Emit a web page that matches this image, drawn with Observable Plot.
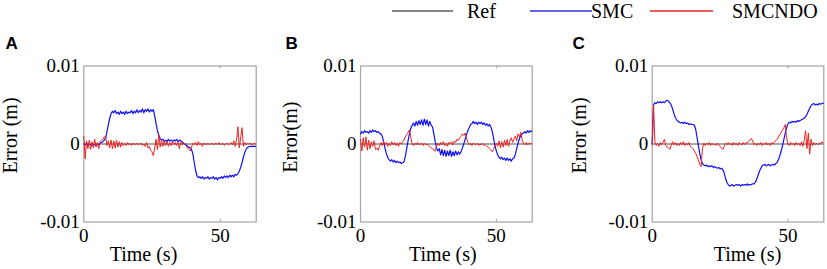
<!DOCTYPE html>
<html><head><meta charset="utf-8">
<script src="https://cdn.jsdelivr.net/npm/d3@7"></script>
<script src="https://cdn.jsdelivr.net/npm/@observablehq/plot@0.6"></script>
<style>
html,body{margin:0;padding:0;background:#fff;}
#root{position:relative;width:827px;height:269px;overflow:hidden;font-family:"Liberation Serif","Times New Roman",serif;}
.panel{position:absolute;top:0;}
.leg-line{position:absolute;height:2px;}
.leg-text{position:absolute;font-size:20px;line-height:20px;white-space:nowrap;color:#000;}
</style></head><body><div id="root"></div>
<script>
// sample times (s), one value every 0.5 s from 0 to 63 s
const time = d3.range(0, 63.01, 0.5);
const xTicks = [0, 50];
const yTicks = [-0.01, 0, 0.01];
const seriesNames = ["Ref", "SMC", "SMCNDO"];
const panelLetters = ["A", "B", "C"];
const yLabels = ["Error (m)", "Error(m)", "Error (m)"];
const xLabel = "Time (s)";

// errors in mm
const smcA = [0.0,-0.1,0.1,-0.2,0.0,-0.1,-0.2,0.0,-0.1,-0.2,0.0,-0.1,0.1,0.2,0.3,0.5,0.8,1.6,2.5,3.3,3.9,4.2,4.0,4.3,3.9,4.1,3.8,4.2,3.9,4.1,3.8,4.2,3.9,4.1,4.0,4.3,3.9,4.2,4.0,4.4,4.0,4.3,4.1,4.5,4.0,4.4,4.2,4.5,4.1,4.4,4.2,4.4,3.6,2.6,1.7,1.1,0.7,0.5,0.6,0.3,0.5,0.3,0.6,0.4,0.5,0.3,0.5,0.4,0.6,0.3,0.5,0.4,0.3,0.1,0.0,-0.1,-0.3,-0.4,-0.5,-0.7,-1.3,-2.4,-3.4,-4.1,-4.3,-4.2,-4.4,-4.2,-4.5,-4.3,-4.4,-4.2,-4.5,-4.3,-4.4,-4.2,-4.5,-4.3,-4.6,-4.3,-4.4,-4.2,-4.4,-4.1,-4.3,-4.1,-4.3,-4.0,-4.2,-4.0,-4.2,-3.9,-4.0,-3.8,-3.5,-3.0,-2.4,-1.7,-1.1,-0.7,-0.45,-0.35,-0.3,-0.3,-0.3,-0.3,-0.3];
const ndoA = [1.0,-1.9,0.4,-0.6,0.5,-0.7,0.3,-0.5,0.6,-0.4,0.2,-0.6,0.3,0.5,0.6,0.9,1.0,-0.2,0.4,-0.5,0.5,-0.6,0.4,-0.5,0.5,-0.4,0.3,-0.4,0.2,-0.2,0.1,-0.2,0.2,-0.1,0.1,-0.2,0.1,0.0,-0.1,0.1,-0.1,0.0,0.1,-0.2,0.0,-0.3,0.2,-0.5,-0.3,-0.8,-1.0,-1.5,-0.5,0.6,-0.7,1.2,-0.4,0.5,-0.3,0.4,-0.2,0.3,-0.3,0.2,-0.2,0.3,-0.1,0.2,-0.2,0.3,-0.6,0.2,-0.1,0.2,0.0,-0.2,-0.5,-0.7,-0.9,-0.4,0.1,-0.1,0.2,-0.2,0.3,-0.1,0.1,-0.3,0.1,0.0,-0.1,0.1,-0.1,0.0,0.1,-0.1,0.0,0.1,-0.1,0.2,-0.1,0.0,0.1,-0.2,0.0,0.1,-0.1,0.0,0.2,-0.1,0.4,-0.3,0.6,2.2,-0.5,0.8,2.1,-0.3,0.2,-0.1,0.1,0.0,0.1,-0.1,0.0,0.1,0.0];
const smcB = [1.3,1.6,1.4,1.7,1.5,1.6,1.4,1.7,1.5,1.8,1.6,1.7,1.5,1.6,1.4,1.3,1.0,0.3,-0.5,-1.2,-1.7,-2.0,-2.2,-2.0,-2.3,-2.1,-2.4,-2.2,-2.4,-2.3,-2.5,-2.4,-2.3,-1.6,-0.6,0.4,1.3,2.0,2.4,2.7,2.3,2.9,2.4,3.0,2.5,3.1,2.4,3.2,2.5,3.1,2.3,2.9,2.4,2.2,1.3,0.3,-0.5,-0.9,-0.6,-1.4,-0.7,-1.5,-0.8,-1.6,-0.9,-1.5,-0.8,-1.6,-1.0,-1.5,-0.9,-1.4,-1.0,-1.3,-1.0,-0.5,0.0,0.6,1.2,1.7,2.1,2.5,2.6,2.9,2.6,2.8,2.5,2.8,2.6,2.8,2.5,2.7,2.4,2.6,2.3,2.5,2.2,1.6,0.7,-0.2,-0.9,-1.4,-1.7,-1.9,-1.7,-2.0,-1.8,-2.1,-1.8,-2.1,-1.9,-2.2,-1.9,-1.8,-1.3,-0.6,0.1,0.7,1.1,1.3,1.4,1.6,1.4,1.7,1.5,1.7,1.6];
const ndoB = [0.6,-0.9,0.8,-0.4,0.9,-0.8,0.5,-0.6,0.3,-0.3,0.4,-0.7,-0.5,-0.8,-0.3,0.2,-0.2,0.3,-0.1,0.2,-0.3,0.1,-0.2,0.3,-0.1,0.2,-0.2,0.1,-0.3,0.2,0.0,0.3,0.5,0.9,1.2,1.5,1.8,0.9,0.0,-0.2,0.1,-0.1,0.2,-0.1,0.0,0.1,-0.2,0.1,-0.1,0.0,-0.2,-0.3,-0.5,-0.6,-0.8,-0.9,-0.3,0.1,-0.2,0.2,-0.1,0.3,-0.2,0.1,-0.3,0.2,0.0,0.3,-0.1,0.4,0.2,0.6,0.5,0.8,1.0,1.3,1.1,1.4,0.8,0.2,-0.1,0.1,-0.2,0.1,0.0,-0.1,0.1,-0.2,0.0,-0.1,0.1,-0.2,-0.1,-0.3,-0.4,-0.6,-0.8,-1.0,-0.7,-0.2,0.1,-0.3,0.4,-0.5,0.3,-0.4,0.5,-0.2,0.6,-0.3,0.4,0.8,0.2,0.7,1.0,0.4,1.3,0.9,1.5,0.5,0.1,-0.1,0.2,-0.1,0.1,0.0,0.1];
const smcC = [0.0,5.0,5.3,5.2,5.4,5.3,5.4,5.3,5.4,5.3,5.5,5.6,5.5,5.3,5.0,4.5,3.9,3.4,3.1,2.9,2.8,2.7,2.8,2.6,2.8,2.6,2.7,2.5,2.6,2.5,2.5,2.4,1.9,0.9,-0.2,-1.2,-2.0,-2.5,-2.7,-2.8,-2.7,-2.9,-2.8,-2.9,-2.8,-3.0,-2.9,-3.0,-3.1,-3.0,-3.2,-3.1,-3.3,-3.7,-4.4,-4.9,-5.2,-5.4,-5.3,-5.2,-5.4,-5.3,-5.2,-5.3,-5.2,-5.4,-5.2,-5.3,-5.2,-5.3,-5.1,-5.3,-5.2,-5.2,-5.1,-5.1,-4.9,-4.5,-4.0,-3.5,-3.1,-2.8,-2.7,-2.6,-2.8,-2.7,-2.6,-2.8,-2.7,-2.6,-2.7,-2.5,-2.4,-2.0,-1.5,-0.9,-0.2,0.6,1.4,2.1,2.6,2.8,2.7,2.9,2.8,2.9,2.8,3.0,2.9,3.0,3.1,3.2,3.3,3.5,3.8,4.2,4.6,4.9,5.1,5.2,5.0,5.1,5.0,5.2,5.1,5.2,5.2];
const ndoC = [0.0,5.0,0.3,-0.2,0.1,-0.3,0.2,-0.1,0.2,0.6,-0.2,-0.4,-0.5,-0.7,-0.2,0.3,-0.1,0.2,-0.2,0.1,-0.2,0.2,-0.1,0.3,-0.2,0.1,-0.1,0.2,-0.3,-0.4,-0.6,-0.9,-1.2,-1.6,-2.0,-2.6,-2.9,-0.6,0.1,-0.2,0.1,-0.1,0.2,-0.2,0.1,-0.1,0.0,-0.2,0.1,-0.1,-0.3,-0.5,-0.7,-0.3,0.1,-0.1,0.2,-0.1,0.1,-0.2,0.2,-0.1,0.1,-0.2,0.2,0.0,-0.1,0.2,-0.1,0.2,0.1,0.3,0.5,0.7,0.4,-0.1,0.1,-0.2,0.1,-0.1,0.2,-0.2,0.1,-0.1,0.2,-0.1,0.1,-0.2,0.2,0.0,0.3,0.4,0.6,0.9,1.2,1.5,1.8,2.1,2.5,0.8,0.0,-0.2,0.2,-0.1,0.1,-0.2,0.2,-0.1,0.1,-0.2,0.3,-0.3,0.5,1.7,-0.6,1.4,-1.3,0.6,-0.2,0.2,-0.1,0.1,-0.1,0.1,0.0,0.3,0.1];

const colors = {Ref: "#8a8a8a", SMC: "#1010ff", SMCNDO: "#ee2222"};
const legendColors = {Ref: "#858585", SMC: "#6464e8", SMCNDO: "#ea6060"};

const layouts = [
  {left: 0,   width: 270, ml: 83.3, mr: 14.3, yDx: -72.8, yDy: -8.5, xDx: -26.5, lDx: -78.3},
  {left: 275, width: 270, ml: 85,   mr: 13.3, yDx: -69.5, yDy: -6.8, xDx: -3.5,  lDx: -75},
  {left: 560, width: 267, ml: 91.7, mr: 3.7,  yDx: -72.2, yDy: -8.5, xDx: 9.5,   lDx: -79.7}
];
const smcAll = [smcA, smcB, smcC];
const ndoAll = [ndoA, ndoB, ndoC];

const root = document.getElementById("root");
const H = 269, MT = 65.5, MB = 47.5;
const frameH = H - MT - MB;
const fmtY = d => d === 0 ? "0" : d.toFixed(2);

layouts.forEach((L, k) => {
  const smc = time.map((t, i) => ({t, v: smcAll[k][i] / 1000}));
  const ndo = time.map((t, i) => ({t, v: ndoAll[k][i] / 1000}));
  const chart = Plot.plot({
    width: L.width, height: H,
    marginLeft: L.ml, marginRight: L.mr, marginTop: MT, marginBottom: MB,
    style: {fontFamily: "'Liberation Serif', 'Times New Roman', serif", background: "transparent", color: "#000", overflow: "visible"},
    x: {domain: [0, 63.2]},
    y: {domain: [-0.01, 0.01]},
    marks: [
      Plot.frame({stroke: "#a3a3a3", strokeWidth: 1.2}),
      Plot.tickX(xTicks.filter(d => d > 0), {x: d => d, insetTop: frameH - 3, stroke: "#a3a3a3"}),
      Plot.tickX(xTicks.filter(d => d > 0), {x: d => d, insetBottom: frameH - 3, stroke: "#a3a3a3"}),
      Plot.ruleY([0], {stroke: colors.Ref, strokeWidth: 1.5}),
      Plot.line(smc, {x: "t", y: "v", stroke: colors.SMC, strokeWidth: 1.2}),
      Plot.line(ndo, {x: "t", y: "v", stroke: colors.SMCNDO, strokeWidth: 1}),
      Plot.axisX({ticks: xTicks, tickSize: 0, tickPadding: 6, fontSize: 19, tickFormat: d => String(d), label: null}),
      Plot.axisY({ticks: yTicks, tickSize: 0, tickPadding: 4, fontSize: 19, tickFormat: fmtY, label: null}),
      Plot.text([yLabels[k]], {text: d => d, frameAnchor: "left", textAnchor: "middle", lineAnchor: "middle", rotate: -90, dx: L.yDx, dy: L.yDy, fontSize: 20}),
      Plot.text([xLabel], {text: d => d, frameAnchor: "bottom", textAnchor: "middle", lineAnchor: "middle", dx: L.xDx, dy: 33, fontSize: 20}),
      Plot.text([panelLetters[k]], {text: d => d, frameAnchor: "top-left", textAnchor: "start", lineAnchor: "middle", dx: L.lDx, dy: -22.5, fontSize: 17, fontWeight: "bold", fontFamily: "'Liberation Sans', Arial, sans-serif"})
    ]
  });
  const div = document.createElement("div");
  div.className = "panel";
  div.style.left = L.left + "px";
  div.appendChild(chart);
  root.appendChild(div);
});

// legend
const legendItems = [
  {name: seriesNames[0], lineL: 392, lineW: 61, textL: 467},
  {name: seriesNames[1], lineL: 530, lineW: 62, textL: 591},
  {name: seriesNames[2], lineL: 650, lineW: 63, textL: 732}
];
legendItems.forEach(it => {
  const ln = document.createElement("div");
  ln.className = "leg-line";
  ln.style.left = it.lineL + "px";
  ln.style.width = it.lineW + "px";
  ln.style.top = "10px";
  ln.style.backgroundColor = legendColors[it.name];
  root.appendChild(ln);
  const tx = document.createElement("div");
  tx.className = "leg-text";
  tx.style.left = it.textL + "px";
  tx.style.top = "1px";
  tx.textContent = it.name;
  root.appendChild(tx);
});
</script></body></html>
